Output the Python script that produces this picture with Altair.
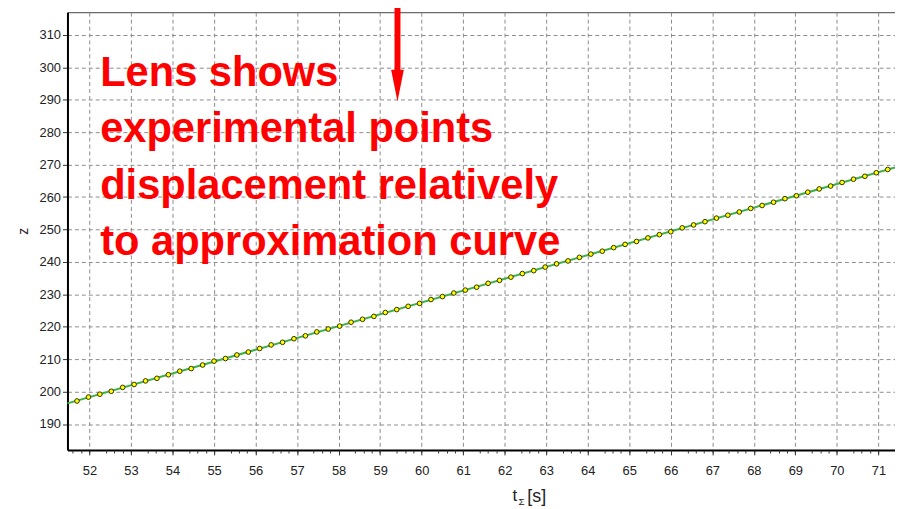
import altair as alt
import pandas as pd

# ---- data ----
t_points = [51.700, 51.975, 52.250, 52.525, 52.800, 53.075, 53.350, 53.625, 53.900, 54.175,
            54.450, 54.725, 55.000, 55.275, 55.550, 55.825, 56.100, 56.375, 56.650, 56.925,
            57.200, 57.475, 57.750, 58.025, 58.300, 58.575, 58.850, 59.125, 59.400, 59.675,
            59.950, 60.225, 60.500, 60.775, 61.050, 61.325, 61.600, 61.875, 62.150, 62.425,
            62.700, 62.975, 63.250, 63.525, 63.800, 64.075, 64.350, 64.625, 64.900, 65.175,
            65.450, 65.725, 66.000, 66.275, 66.550, 66.825, 67.100, 67.375, 67.650, 67.925,
            68.200, 68.475, 68.750, 69.025, 69.300, 69.575, 69.850, 70.125, 70.400, 70.675,
            70.950, 71.225]
z_points = [197.1, 198.3, 199.2, 200.1, 201.3, 202.2, 203.3, 204.1, 205.2, 206.3,
            207.1, 208.2, 209.4, 210.2, 211.3, 212.2, 213.3, 214.4, 215.2, 216.3,
            217.2, 218.4, 219.3, 220.2, 221.4, 222.3, 223.2, 224.4, 225.3, 226.3,
            227.2, 228.4, 229.3, 230.4, 231.3, 232.2, 233.4, 234.3, 235.3, 236.4,
            237.3, 238.4, 239.4, 240.3, 241.4, 242.4, 243.3, 244.4, 245.4, 246.3,
            247.4, 248.4, 249.3, 250.5, 251.4, 252.4, 253.5, 254.4, 255.4, 256.5,
            257.4, 258.4, 259.5, 260.4, 261.5, 262.5, 263.4, 264.5, 265.5, 266.4,
            267.5, 268.5]
curve_t = [51.47, 71.40]
curve_z = [196.36, 269.13]
x_ticks = list(range(52, 72))
y_ticks = list(range(190, 320, 10))
x_minor_ticks = [round(51.6 + 0.2 * k, 1) for k in range(100) if (k + 2) % 5 != 0]
annotation_lines = ["Lens shows", "experimental points",
                    "displacement relatively", "to approximation curve"]

pts = pd.DataFrame({"t": t_points, "z": z_points})
curve = pd.DataFrame({"t": curve_t, "z": curve_z})
one = pd.DataFrame({"k": [0]})

xs = alt.Scale(domain=[51.47, 71.40], nice=False, zero=False)
ys = alt.Scale(domain=[182, 317], nice=False, zero=False)

FONT = "Liberation Sans"
grid_kw = dict(grid=True, gridColor="#8c8c8c", gridDash=[4, 3], gridWidth=1)

x_axis = alt.Axis(values=x_ticks, format="d", title=None, orient="bottom",
                  labelFont=FONT, labelFontSize=13, labelColor="#222222",
                  tickSize=5, tickColor="#333333", labelPadding=10,
                  domainColor="#000000", domainWidth=2, **grid_kw)
y_axis = alt.Axis(values=y_ticks, format="d", title=None, orient="left",
                  labelFont=FONT, labelFontSize=13, labelColor="#222222",
                  tickSize=5, tickColor="#333333", labelPadding=2,
                  domainColor="#000000", domainWidth=2, **grid_kw)
x_minor_axis = alt.Axis(values=x_minor_ticks, orient="bottom", labels=False, grid=False,
                        domain=False, tickSize=3, tickColor="#333333", title=None)

line = alt.Chart(curve).mark_line(color="#3cb043", strokeWidth=2).encode(
    x=alt.X("t:Q", scale=xs, axis=x_axis),
    y=alt.Y("z:Q", scale=ys, axis=y_axis),
)
points = alt.Chart(pts).mark_point(
    shape="circle", filled=True, fill="#ffff00", stroke="#333300",
    strokeWidth=1, size=22, opacity=1, fillOpacity=1, strokeOpacity=1
).encode(
    x=alt.X("t:Q", scale=xs, axis=None),
    y=alt.Y("z:Q", scale=ys, axis=y_axis),
)
minor = alt.Chart(pts).mark_point(opacity=0).encode(
    x=alt.X("t:Q", scale=xs, axis=x_minor_axis),
    y=alt.Y("z:Q", scale=ys, axis=y_axis),
)

note = alt.Chart(one).mark_text(
    text=annotation_lines, font=FONT, fontSize=42, fontWeight="bold",
    color="#ff0000", align="left", baseline="alphabetic", lineHeight=57
).encode(x=alt.value(33), y=alt.value(74))

shaft = alt.Chart(one).mark_rule(color="#ff0000", strokeWidth=6).encode(
    x=alt.value(333), y=alt.value(-12), y2=alt.value(60))
head = alt.Chart(one).mark_point(
    shape="M -0.4 -1 L 0.4 -1 L 0 1 Z", filled=True, color="#ff0000",
    size=1024, opacity=1
).encode(x=alt.value(333), y=alt.value(74))

t_main = alt.Chart(one).mark_text(text="t", font=FONT, fontSize=17, color="#222222",
                                  align="left", baseline="alphabetic").encode(
    x=alt.value(449), y=alt.value(493))
t_sub = alt.Chart(one).mark_text(text="Σ", font=FONT, fontSize=10, color="#222222",
                                 align="left", baseline="alphabetic").encode(
    x=alt.value(455), y=alt.value(497))
t_unit = alt.Chart(one).mark_text(text="[s]", font=FONT, fontSize=18, color="#222222",
                                  align="left", baseline="alphabetic").encode(
    x=alt.value(464), y=alt.value(494))
z_title = alt.Chart(one).mark_text(text="z", font=FONT, fontSize=14, color="#222222",
                                   align="center", baseline="middle", angle=270).encode(
    x=alt.value(-44), y=alt.value(221))

chart = alt.layer(
    line, points, minor, note, shaft, head, t_main, t_sub, t_unit, z_title
).resolve_axis(x="independent").properties(
    width=835, height=441.7, autosize="none",
    padding={"left": 60, "top": 2, "right": 0, "bottom": 58},
    background="#ffffff",
).configure_view(stroke="#444444", strokeWidth=1)

chart.save("out.html", embed_options={"renderer": "svg", "actions": False})
